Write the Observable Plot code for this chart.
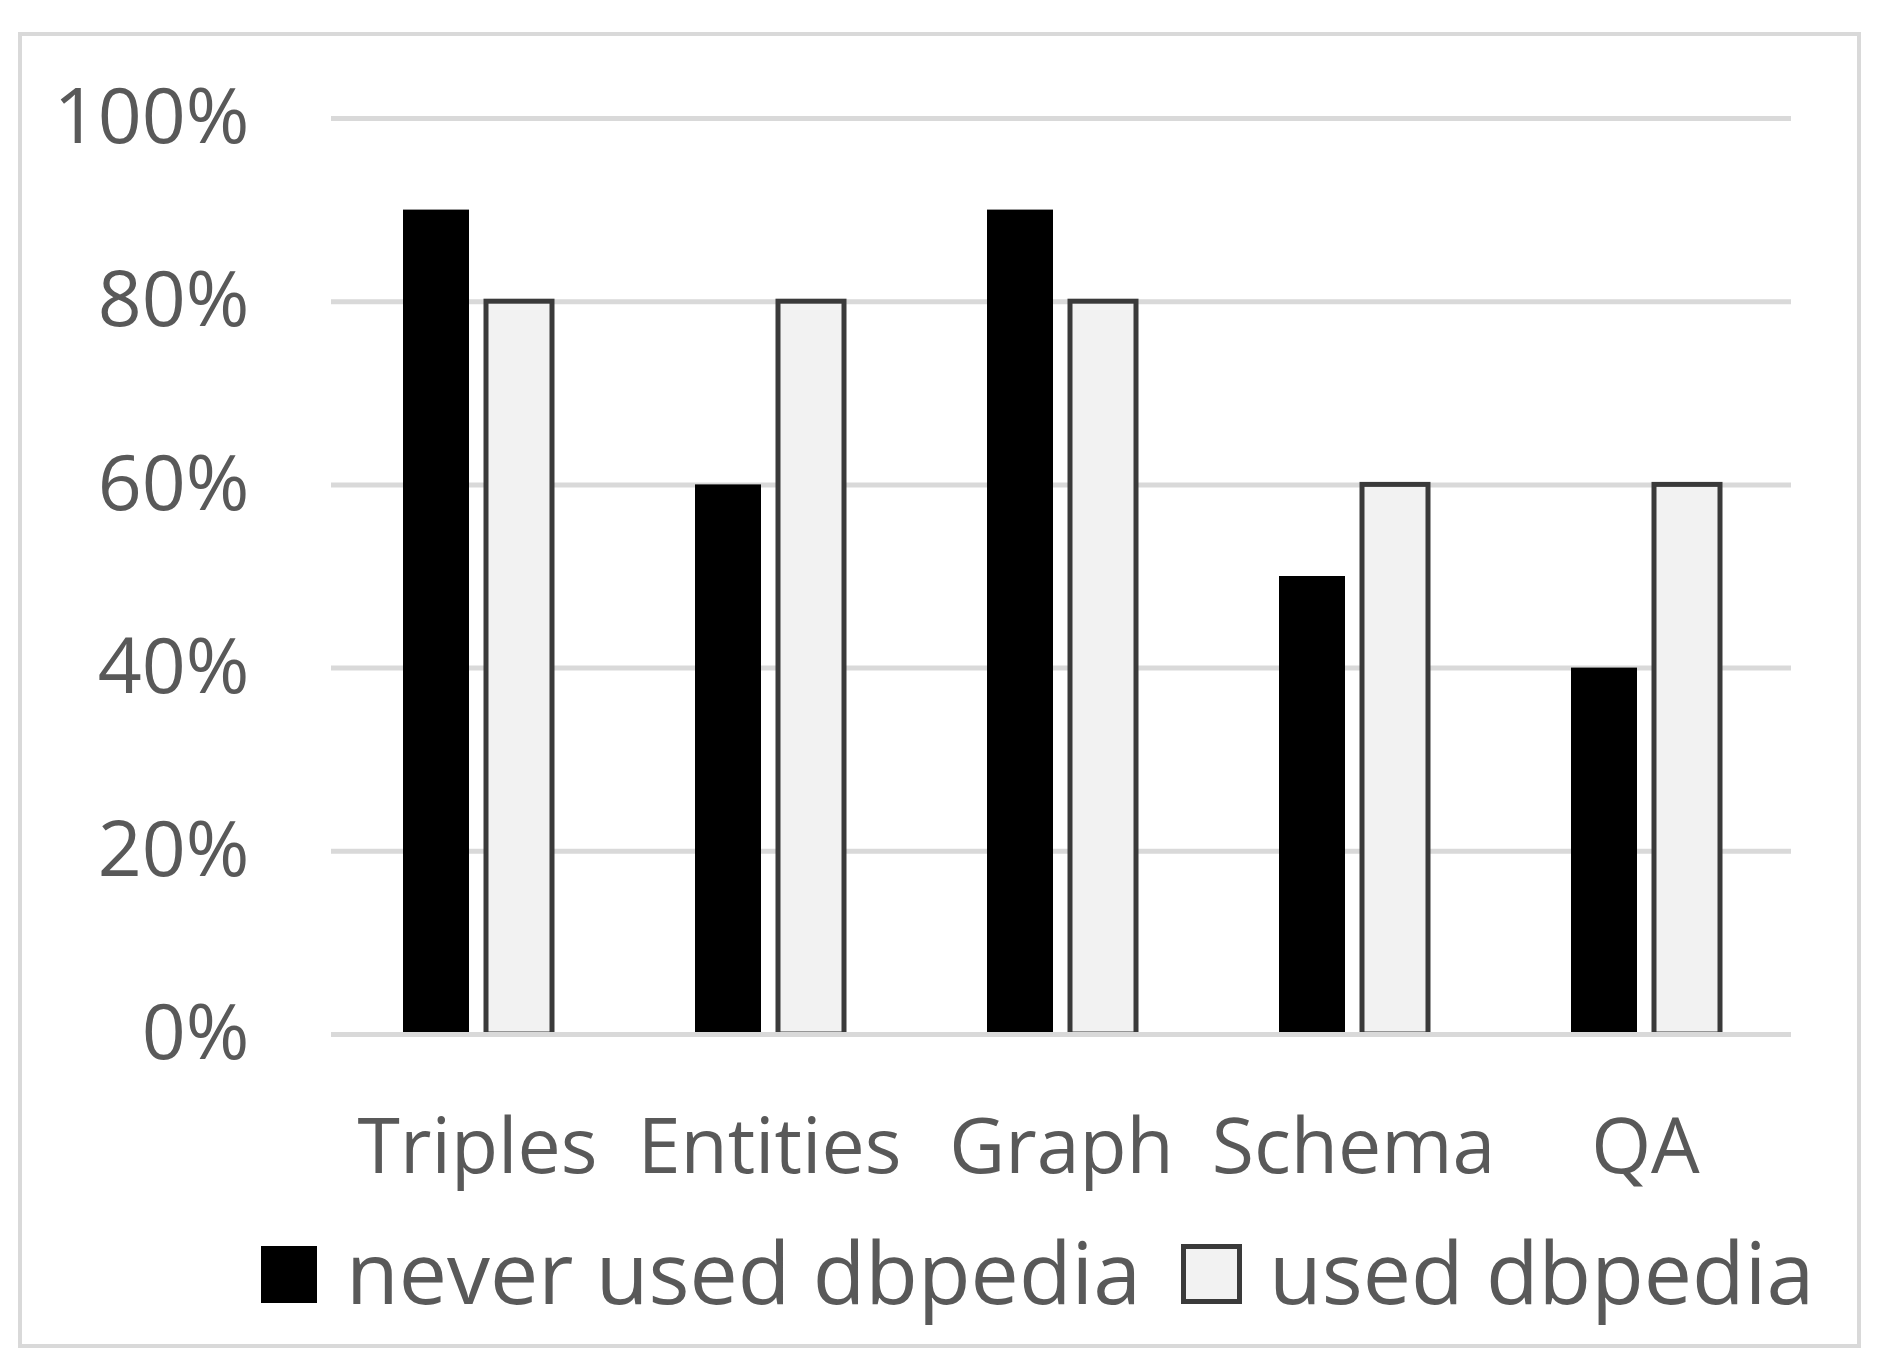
<!DOCTYPE html>
<html>
<head>
<meta charset="utf-8">
<script src="https://cdn.jsdelivr.net/npm/d3@7"></script>
<script src="https://cdn.jsdelivr.net/npm/@observablehq/plot@0.6"></script>
<style>
  html, body { margin: 0; padding: 0; background: #fff; }
  #page { position: relative; width: 1889px; height: 1364px; overflow: hidden; font-family: "Open Sans", sans-serif; }
  #border { position: absolute; left: 18px; top: 32px; width: 1843px; height: 1316px; box-sizing: border-box; border: 4px solid #d9d9d9; }
  #chart { position: absolute; left: 0; top: 0; }
  #chart svg text { font-family: "Open Sans", sans-serif; font-size: 77px; fill: #595959; }
  #legend { position: absolute; left: 261px; top: 1222px; height: 104px; display: flex; align-items: center; font-size: 86px; color: #595959; line-height: 104px; white-space: nowrap; }
  .sw { display: inline-block; box-sizing: border-box; }
  .lt { position: relative; top: -3px; }
</style>
</head>
<body>
<div id="page">
  <div id="border"></div>
  <div id="chart"></div>
  <div id="legend"></div>
</div>
<script>
const categories = ["Triples", "Entities", "Graph", "Schema", "QA"];
const seriesNames = ["never used dbpedia", "used dbpedia"];
const neverUsed = [0.90, 0.60, 0.90, 0.50, 0.40];
const used = [0.80, 0.80, 0.80, 0.60, 0.60];
const yTicks = [0, 0.2, 0.4, 0.6, 0.8, 1.0];
const fills = ["#000000", "#f2f2f2"];

const table = [];
categories.forEach((c, i) => {
  table.push({cat: c, series: seriesNames[0], value: neverUsed[i]});
  table.push({cat: c, series: seriesNames[1], value: used[i]});
});

const chart = Plot.plot({
  width: 1889,
  height: 1215,
  marginLeft: 329,
  marginRight: 96,
  marginTop: 118,
  marginBottom: 181,
  style: {background: "transparent", color: "#595959", fontFamily: "Open Sans", fontSize: "77px", overflow: "visible"},
  fx: {domain: categories, padding: 0, label: null, tickSize: 0, tickPadding: 84, axis: "bottom"},
  x: {domain: seriesNames, paddingInner: 0.21, paddingOuter: 0.862, axis: null},
  y: {domain: [0, 1], ticks: yTicks, tickFormat: d => Math.round(d * 100) + "%", tickSize: 0, tickPadding: 82, label: null},
  marks: [
    Plot.ruleY(yTicks, {stroke: "#d9d9d9", strokeWidth: 5}),
    Plot.barY(table.filter(d => d.series === seriesNames[0]), {fx: "cat", x: "series", y: "value", fill: fills[0]}),
    Plot.barY(table.filter(d => d.series === seriesNames[1]), {fx: "cat", x: "series", y: "value", fill: fills[1], stroke: "#3a3a3a", strokeWidth: 5}),
    Plot.ruleY([0], {stroke: "#d9d9d9", strokeWidth: 5})
  ]
});
document.getElementById("chart").appendChild(chart);

const legend = document.getElementById("legend");
seriesNames.forEach((name, i) => {
  const sw = document.createElement("span");
  sw.className = "sw";
  if (i === 0) {
    sw.style.width = "56px"; sw.style.height = "57px"; sw.style.background = fills[0];
    sw.style.marginRight = "29px";
  } else {
    sw.style.width = "61px"; sw.style.height = "60px"; sw.style.background = fills[1];
    sw.style.border = "5px solid #3a3a3a";
    sw.style.marginLeft = "40px"; sw.style.marginRight = "27px";
  }
  const t = document.createElement("span");
  t.className = "lt";
  t.textContent = name;
  legend.appendChild(sw);
  legend.appendChild(t);
});
</script>
</body>
</html>
